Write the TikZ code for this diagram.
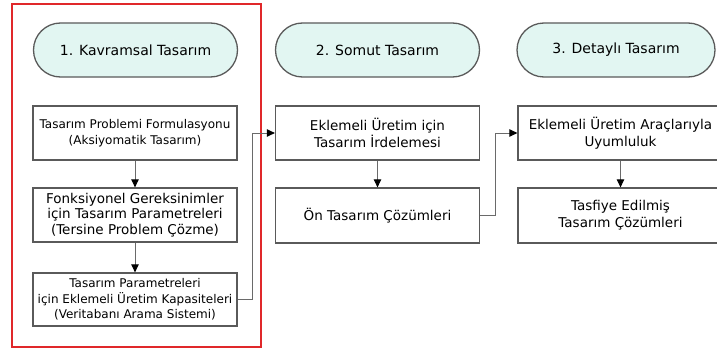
\documentclass[tikz,border=0pt]{standalone}
\usepackage{fontspec}
\setmainfont{DejaVu Sans}
\usetikzlibrary{arrows.meta}
\definecolor{boxgray}{HTML}{5A5A5A}
\definecolor{arrgray}{HTML}{6A6A6A}
\definecolor{pillfill}{HTML}{E2F6F2}
\definecolor{framered}{HTML}{E0282A}
\begin{document}
\begin{tikzpicture}[x=1pt,y=-1pt,
  box/.style={draw=boxgray, line width=1.3pt, minimum width=204pt, minimum height=54pt, align=center, inner sep=0pt, font=\fontsize{12}{15.5}\selectfont},
  bigbox/.style={box, font=\fontsize{13.5}{17}\selectfont},
  pill/.style={draw=boxgray, fill=pillfill, line width=1.3pt, rounded corners=27pt, minimum width=204pt, minimum height=54pt, inner sep=0pt, font=\fontsize{14}{16}\selectfont},
  arr/.style={draw=arrgray, line width=0.9pt, -{Triangle[length=8pt,width=7.5pt,color=black]}}
]
\useasboundingbox (0,0) rectangle (717,353);
\clip (0,0) rectangle (717,353);
% frame
\draw[framered, line width=2pt] (12,4) rectangle (261,347);
% pills
\node[pill] (p1) at (135.5,50) {1. Kavramsal Tasarım};
\node[pill] (p2) at (377.5,50) {2. Somut Tasarım};
\node[pill, minimum width=198pt] (p3) at (616,50) {3. Detaylı Tasarım};
% column 1
\node[box] (a1) at (135,133) {Tasarım Problemi Formulasyonu\\(Aksiyomatik Tasarım)};
\node[box, font=\fontsize{13.5}{15.5}\selectfont] (a2) at (135,215) {Fonksiyonel Gereksinimler\\için Tasarım Parametreleri\\(Tersine Problem Çözme)};
\node[box, minimum height=53pt] (a3) at (135,299.5) {Tasarım Parametreleri\\için Eklemeli Üretim Kapasiteleri\\(Veritabanı Arama Sistemi)};
% column 2
\node[bigbox] (b1) at (377.5,133) {Eklemeli Üretim için\\Tasarım İrdelemesi};
\node[bigbox, minimum height=55pt] (b2) at (377.5,215.5) {Ön Tasarım Çözümleri};
% column 3
\node[bigbox, minimum width=205pt] (c1) at (620.5,133) {Eklemeli Üretim Araçlarıyla\\Uyumluluk};
\node[bigbox, minimum width=205pt, minimum height=55pt] (c2) at (620.5,215.5) {Tasfiye Edilmiş\\Tasarım Çözümleri};
% arrows
\draw[arr] (a1) -- (a2);
\draw[arr] (a2) -- (a3);
\draw[arr] (b1) -- (b2);
\draw[arr] (c1) -- (c2);
\draw[arr] (a3.east) -- ++(15,0) |- (b1.west);
\draw[arr] (b2.east) -- ++(15,0) |- (c1.west);
\end{tikzpicture}
\end{document}
